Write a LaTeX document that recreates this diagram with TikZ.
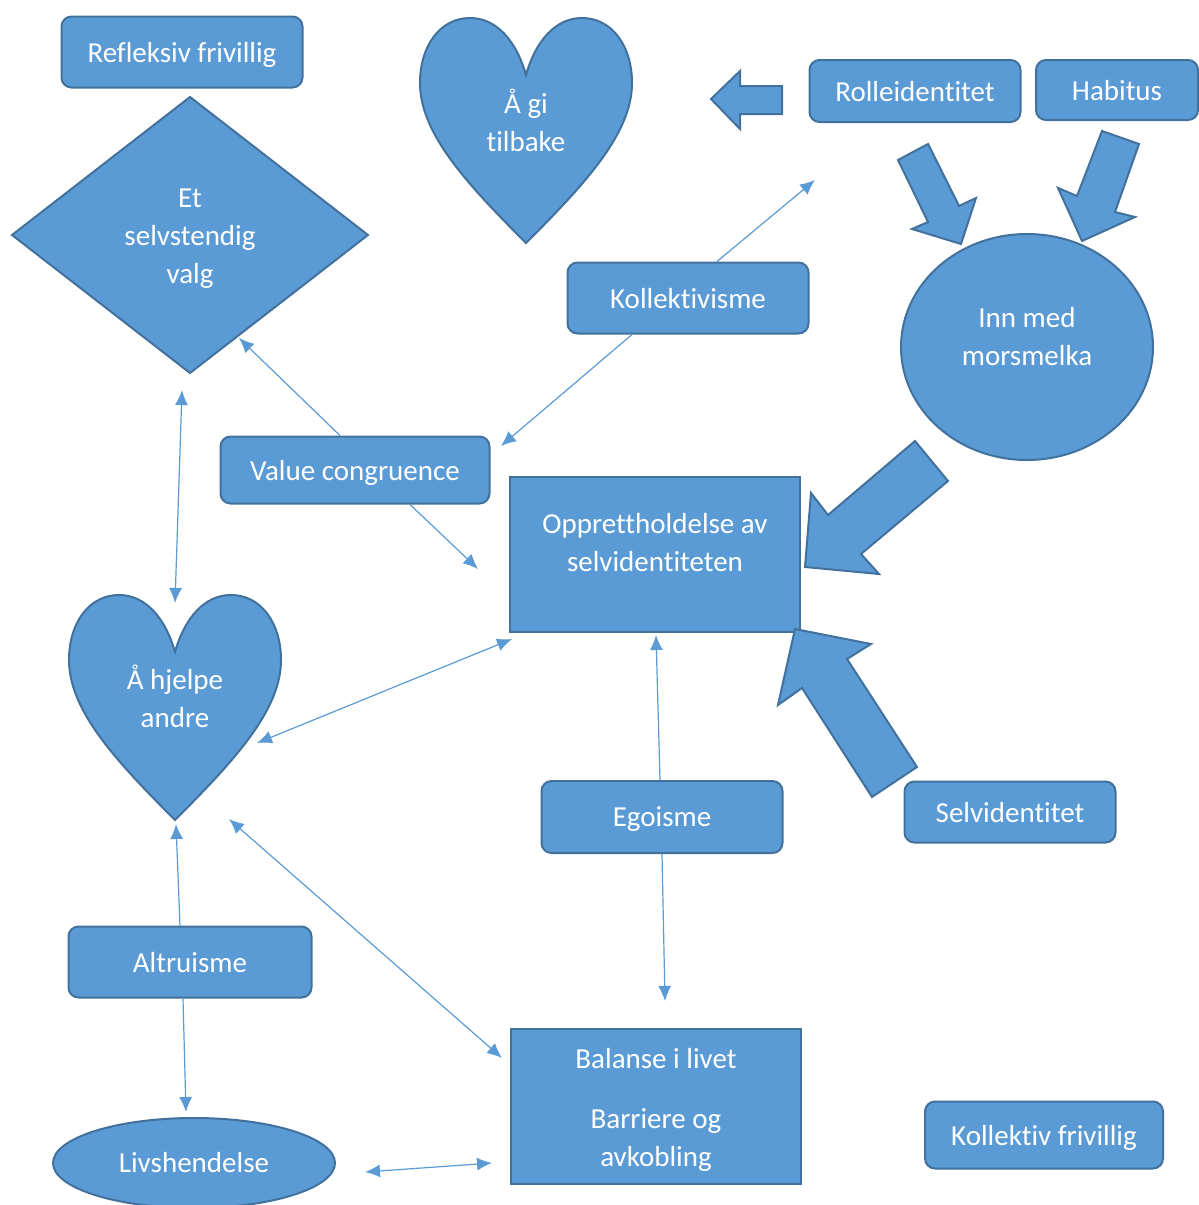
\documentclass[tikz,border=0pt]{standalone}
\usepackage{fontspec}
\setmainfont{Carlito}[Ligatures=NoCommon]
\usetikzlibrary{calc,arrows.meta,shapes.geometric}

\definecolor{boxblue}{HTML}{5B9BD5}
\definecolor{edgeblue}{HTML}{41719C}

\tikzset{
  word/.style={text=white,align=center,font=\fontsize{14.5}{19}\selectfont},
  box/.style={word,draw=edgeblue,fill=boxblue,line width=1pt,rounded corners=5pt,inner sep=0pt,text depth=0pt},
  flatbox/.style={draw=edgeblue,fill=boxblue,line width=1pt,inner sep=0pt},
  blob/.style={draw=edgeblue,fill=boxblue,line width=1pt},
  link/.style={draw=boxblue,line width=0.6pt},
}

% heart: centre x, top y
\newcommand\heartat[2]{%
  \draw[blob] ({#1},{#2+57}) .. controls ({#1-10},{#2+22}) and ({#1-30},{#2}) .. ({#1-56},{#2})
    .. controls ({#1-86},{#2}) and ({#1-106},{#2+28}) .. ({#1-106},{#2+65})
    .. controls ({#1-106},{#2+115}) and ({#1-60},{#2+165}) .. ({#1},{#2+225})
    .. controls ({#1+60},{#2+165}) and ({#1+106},{#2+115}) .. ({#1+106},{#2+65})
    .. controls ({#1+106},{#2+28}) and ({#1+86},{#2}) .. ({#1+56},{#2})
    .. controls ({#1+30},{#2}) and ({#1+10},{#2+22}) .. cycle;}

\begin{document}
\begin{tikzpicture}[x=0.5pt,y=-0.5pt,>={Latex[length=7.5pt,width=6.5pt]}]
        \useasboundingbox (0,0) rectangle (1199,1205);
        % shapes
        \draw[blob] (190,97) -- (368,235) -- (190,373) -- (12,235) -- cycle;
        \node[word] (valg) at (190,239) {Et\\selvstendig\\valg};
        \heartat{526}{18}
        \node[word] (agi) at (526,120) {Å gi\\tilbake};
        \heartat{175}{595}
        \node[word] (hjelpe) at (175,696) {Å hjelpe\\andre};
        \node[blob,ellipse,minimum width=126pt,minimum height=113pt,inner sep=0pt] (inn) at (1027,347) {};
        \node[word] (inntxt) at (1027,337) {Inn med\\morsmelka};
        \node[blob,ellipse,word,minimum width=141pt,minimum height=45pt,inner sep=0pt] (livs) at (194,1163) {Livshendelse};
        % boxes
        \node[box,minimum width=120.5pt,minimum height=35.5pt] (refl) at (182,52) {Refleksiv frivillig};
        \node[box,minimum width=105.5pt,minimum height=31pt] (rolle) at (915,91) {Rolleidentitet};
        \node[box,minimum width=81pt,minimum height=30pt] (habitus) at (1117,90) {Habitus};
        \node[box,minimum width=120.5pt,minimum height=35.5pt] (koll) at (688,298) {Kollektivisme};
        \node[box,minimum width=134.5pt,minimum height=33.5pt] (value) at (355,470) {Value congruence};
        \node[flatbox,minimum width=145pt,minimum height=77.5pt,
              label={[word,yshift=5.5pt]center:Opprettholdelse av\\selvidentiteten}] (oppr) at (655,554) {};
        \node[box,minimum width=120.5pt,minimum height=36pt] (ego) at (662,817) {Egoisme};
        \node[box,minimum width=105.5pt,minimum height=30.5pt] (selv) at (1010,812) {Selvidentitet};
        \node[box,minimum width=121.5pt,minimum height=35.5pt] (altr) at (190,962) {Altruisme};
        \node[flatbox,minimum width=145pt,minimum height=77.5pt,
              label={[word,yshift=-2pt]center:Balanse i livet\\[11pt]Barriere og\\avkobling}] (balanse) at (656,1106) {};
        \node[box,minimum width=119pt,minimum height=33.5pt] (kfri) at (1044,1135) {Kollektiv frivillig};
        % block arrows
        \draw[blob] (711,99) -- (740,71) -- (740,86) -- (782,86) -- (782,114) -- (740,114) -- (740,129) -- cycle;
        \draw[blob] (898,160) -- (928,144) -- (959,206) -- (976,198) -- (961,244) -- (912,229) -- (928,222) -- cycle;
        \draw[blob] (1102,131) -- (1139,144) -- (1115,212) -- (1135,217) -- (1082,241) -- (1058,188) -- (1077,196) -- cycle;
        \draw[blob] (915,441) -- (948,481) -- (861,554) -- (879,574) -- (805,567) -- (811,493) -- (828,515) -- cycle;
        \draw[blob] (795,629) -- (871,644) -- (847,659) -- (917,767) -- (872,797) -- (802,688) -- (778,705) -- cycle;
        % free ends
        \coordinate (kolltip) at (815,180);
        \coordinate (valuetip) at (501,446);
        \coordinate (valgtip) at (239,338);
        \coordinate (opprtip) at (478,569);
        \coordinate (valgfoot) at (182,390);
        \coordinate (hjelpetop) at (175,603);
        \coordinate (hjelperight) at (257,743);
        \coordinate (opprcorner) at (512,639);
        \coordinate (opprfoot) at (656,635);
        \coordinate (balansetop) at (665,1001);
        \coordinate (hjelpefoot) at (229,819);
        \coordinate (balanseleft) at (502,1058);
        \coordinate (hjelpetip) at (176,824);
        \coordinate (livstip) at (186,1112);
        \coordinate (livsright) at (365,1172);
        \coordinate (balansefoot) at (492,1163);
        % connectors
        \draw[link,->] ($(koll.north)+(29,0)$) -- (kolltip);
        \draw[link,->] ($(koll.south)+(-56,0)$) -- (valuetip);
        \draw[link,->] ($(value.north)+(-15,0)$) -- (valgtip);
        \draw[link,->] ($(value.south)+(55,0)$) -- (opprtip);
        \draw[link,<->] (valgfoot) -- (hjelpetop);
        \draw[link,<->] (hjelperight) -- (opprcorner);
        \draw[link,->] ($(ego.north)+(-2,0)$) -- (opprfoot);
        \draw[link,->] (ego.south) -- (balansetop);
        \draw[link,<->] (hjelpefoot) -- (balanseleft);
        \draw[link,->] ($(altr.north)+(-10,0)$) -- (hjelpetip);
        \draw[link,->] ($(altr.south)+(-7,0)$) -- (livstip);
        \draw[link,<->] (livsright) -- (balansefoot);
\end{tikzpicture}
\end{document}
